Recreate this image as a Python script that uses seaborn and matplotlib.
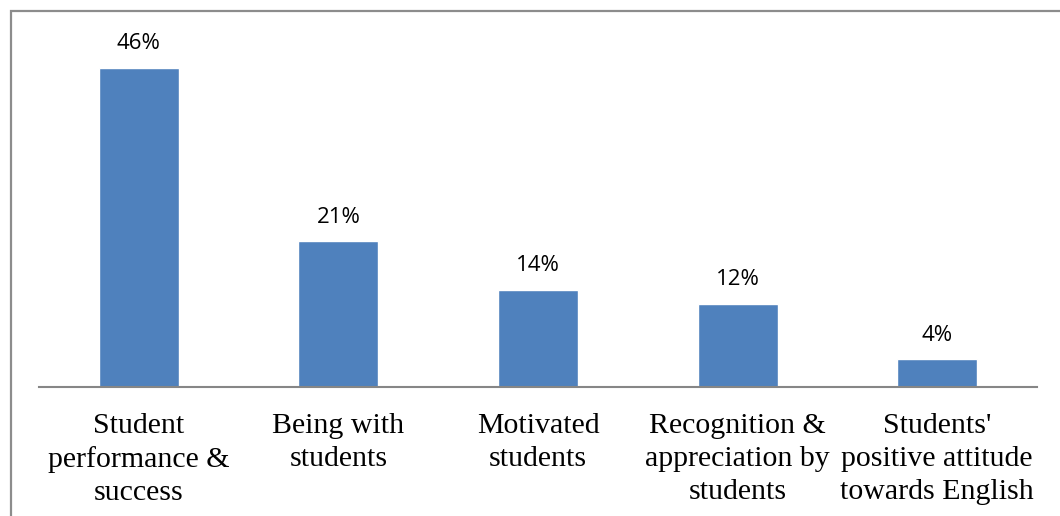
import matplotlib
matplotlib.use("Agg")
import matplotlib.pyplot as plt
import seaborn as sns
import pandas as pd
from matplotlib.patches import Rectangle

categories = ["Student\nperformance &\nsuccess", "Being with\nstudents", "Motivated\nstudents",
              "Recognition &\nappreciation by\nstudents", "Students'\npositive attitude\ntowards English"]
values = [46, 21, 14, 12, 4]
value_labels = ["46%", "21%", "14%", "12%", "4%"]

sns.set_theme(style="white")
df = pd.DataFrame({"cat": categories, "val": values})

fig = plt.figure(figsize=(10.6, 5.16), dpi=100)
ax = fig.add_axes([39/1060, 1 - 387/516, (1037-39)/1060, (387-40.5)/516])
sns.barplot(data=df, x="cat", y="val", color="#4F81BD", saturation=1, width=0.4, ax=ax)
ax.set_ylim(0, 50)
ax.set_xlim(-0.5, 4.5)
ax.set_xlabel("")
ax.set_ylabel("")
ax.set_yticks([])
for s in ["top", "right", "left"]:
    ax.spines[s].set_visible(False)
ax.spines["bottom"].set_color("#868686")
ax.spines["bottom"].set_linewidth(1.5)
ax.tick_params(axis="x", length=0, pad=19)
for lbl in ax.get_xticklabels():
    lbl.set_fontfamily("Liberation Serif")
    lbl.set_fontsize(21.5)
    lbl.set_color("black")
    lbl.set_linespacing(1.33)

for i, (v, t) in enumerate(zip(values, value_labels)):
    ax.annotate(t, (i, v), xytext=(0, 13.5), textcoords="offset points",
                ha="center", va="baseline", fontsize=16, family="Open Sans", color="black")

fig.patches.append(Rectangle((10.5/1060, -0.1), 1.2, 1 - 10.5/516 + 0.1, transform=fig.transFigure,
                             fill=False, edgecolor="#8c8c8c", linewidth=1.6))

fig.savefig("out.png", dpi=100, facecolor="white")
